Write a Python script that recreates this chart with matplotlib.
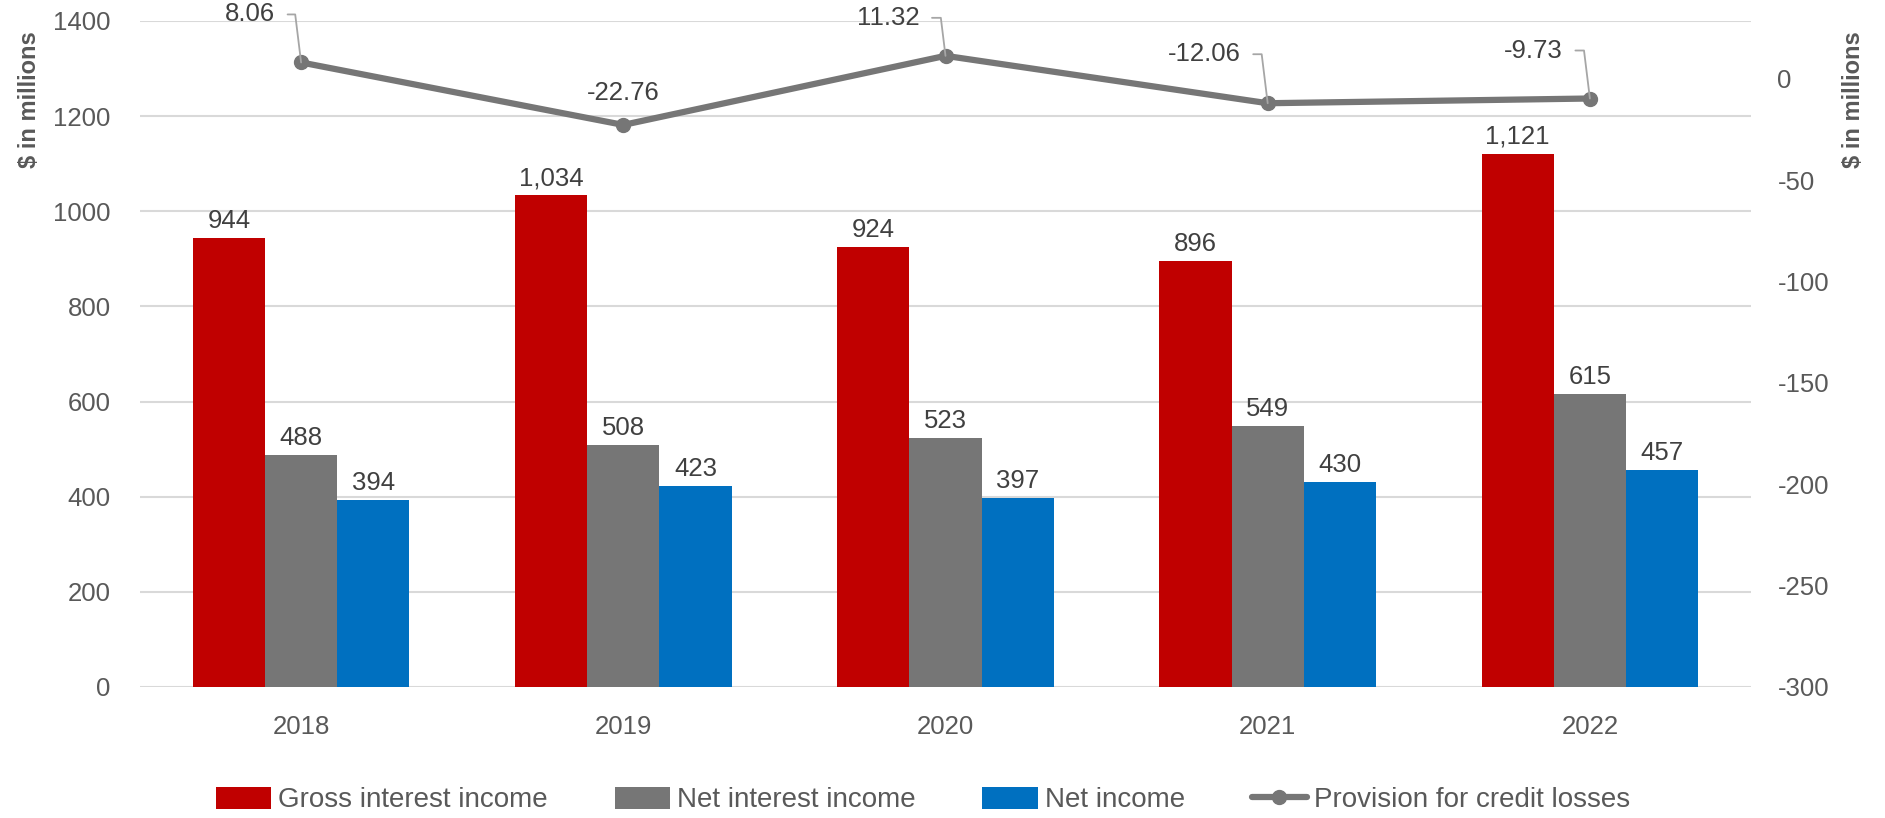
import matplotlib
matplotlib.use("Agg")
import matplotlib.pyplot as plt
import numpy as np

years = ["2018", "2019", "2020", "2021", "2022"]
gross_interest = [944, 1034, 924, 896, 1121]
net_interest = [488, 508, 523, 549, 615]
net_income = [394, 423, 397, 430, 457]
provision = [8.06, -22.76, 11.32, -12.06, -9.73]

left_ticks = [0, 200, 400, 600, 800, 1000, 1200, 1400]
right_ticks = [-300, -250, -200, -150, -100, -50, 0]

RED = "#C00000"
GRAY = "#767676"
BLUE = "#0070C0"
TICK_C = "#595959"
LABEL_C = "#404040"
GRID_C = "#D9D9D9"

plt.rcParams['font.family'] = ['Liberation Sans', 'DejaVu Sans']
plt.rcParams['axes.unicode_minus'] = False

W, H = 1885, 818
fig = plt.figure(figsize=(W / 100, H / 100), dpi=100)
L, R, T, B = 140, 1751, 21, 687
ax = fig.add_axes([L / W, 1 - B / H, (R - L) / W, (B - T) / H])
ax2 = ax.twinx()

x = np.arange(len(years))
bw = 0.224
FS = 18.5

b1 = ax.bar(x - bw, gross_interest, bw, color=RED, label="Gross interest income", zorder=3)
b2 = ax.bar(x, net_interest, bw, color=GRAY, label="Net interest income", zorder=3)
b3 = ax.bar(x + bw, net_income, bw, color=BLUE, label="Net income", zorder=3)

for bars, vals in [(b1, gross_interest), (b2, net_interest), (b3, net_income)]:
    for rect, v in zip(bars, vals):
        ax.annotate(f"{v:,}", xy=(rect.get_x() + rect.get_width() / 2, v),
                    xytext=(0, 5), textcoords="offset pixels",
                    ha="center", va="bottom", fontsize=FS, color=LABEL_C, zorder=5)

ax.set_xlim(-0.5, len(years) - 0.5)
ax.set_ylim(0, 1400)
ax.set_yticks(left_ticks)
ax.set_xticks(x)
ax.set_xticklabels(years)
ax.yaxis.grid(True, color=GRID_C, lw=1.5, zorder=0)
ax.set_axisbelow(True)
for s in ax.spines.values():
    s.set_visible(False)
for s in ax2.spines.values():
    s.set_visible(False)
ax.tick_params(axis="y", length=0, pad=21, labelsize=FS, labelcolor=TICK_C)
ax.tick_params(axis="x", length=0, pad=20, labelsize=FS, labelcolor=TICK_C)

ln, = ax2.plot(x, provision, color=GRAY, lw=4.5, marker="o", markersize=10,
               label="Provision for credit losses", zorder=4, solid_capstyle="round")
ax2.set_ylim(-300, 28.5)
ax2.set_yticks(right_ticks)
ax2.tick_params(axis="y", length=0, pad=19, labelsize=FS, labelcolor=TICK_C)

# line labels (offsets in pixels relative to the marker)
label_offsets = [(-26, 48), (0, 32), (-26, 38), (-27, 49), (-27, 48)]
leader = [True, False, True, True, True]
for i, v in enumerate(provision):
    dx, dy = label_offsets[i]
    if leader[i]:
        ax2.annotate(f"{v:.2f}", xy=(x[i], v), xytext=(dx, dy), textcoords="offset pixels",
                     ha="right", va="center", fontsize=FS, color=LABEL_C, zorder=6,
                     annotation_clip=False,
                     arrowprops=dict(arrowstyle="-", color="#A6A6A6", lw=1.3,
                                     connectionstyle="angle,angleA=0,angleB=97,rad=0",
                                     shrinkA=7, shrinkB=0, relpos=(1, 0.5)))
    else:
        ax2.annotate(f"{v:.2f}", xy=(x[i], v), xytext=(dx, dy), textcoords="offset pixels",
                     ha="center", va="center", fontsize=FS, color=LABEL_C, zorder=6)

fig.text(29 / W, 1 - 100 / H, "$ in millions", rotation=90, ha="center", va="center",
         fontsize=17, fontweight="bold", color=TICK_C)
fig.text(1853 / W, 1 - 100 / H, "$ in millions", rotation=90, ha="center", va="center",
         fontsize=17, fontweight="bold", color=TICK_C)

handles = [b1, b2, b3, ln]
fig.legend(handles, [h.get_label() for h in handles], loc="center",
           bbox_to_anchor=(923 / W, 1 - 800 / H), ncol=4, frameon=False,
           fontsize=20, labelcolor=TICK_C, handlelength=2.0, handleheight=0.87,
           handletextpad=0.25, columnspacing=2.4)

fig.savefig("out.png", dpi=100)
